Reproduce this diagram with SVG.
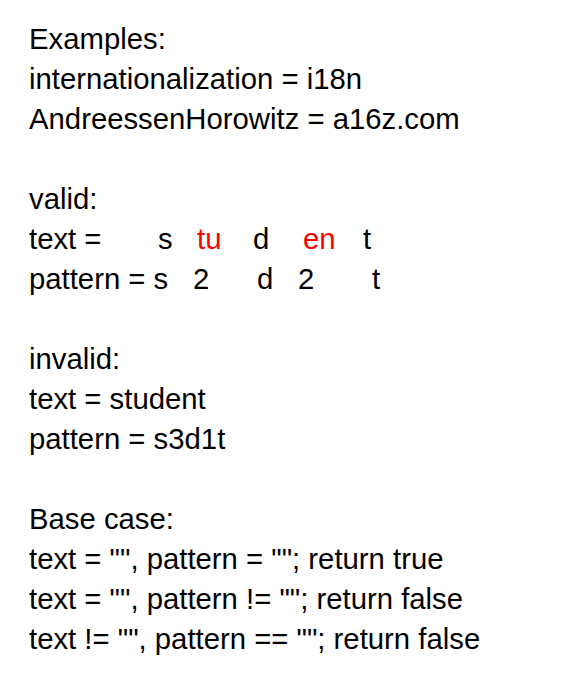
<svg xmlns="http://www.w3.org/2000/svg" width="582" height="678" viewBox="0 0 582 678">
<style>
text{font-family:"Liberation Sans",Arial,sans-serif;font-size:29.3px;fill:#000}
.r{fill:#ff0000}
</style>
<rect width="582" height="678" fill="#fff"/>
<g id="examples">
<text x="29" y="49">Examples:</text>
<text x="29" y="89">internationalization = i18n</text>
<text x="29" y="129">AndreessenHorowitz = a16z.com</text>
</g>
<g id="valid">
<text x="29" y="209">valid:</text>
<text x="29" y="249">text =</text>
<text x="158" y="249">s</text>
<text class="r" x="197" y="249">tu</text>
<text x="253" y="249">d</text>
<text class="r" x="303" y="249">en</text>
<text x="363" y="249">t</text>
<text x="29" y="289">pattern = s</text>
<text x="193" y="289">2</text>
<text x="257" y="289">d</text>
<text x="298" y="289">2</text>
<text x="372" y="289">t</text>
</g>
<g id="invalid">
<text x="29" y="369">invalid:</text>
<text x="29" y="409">text = student</text>
<text x="29" y="449">pattern = s3d1t</text>
</g>
<g id="base">
<text x="29" y="529">Base case:</text>
<text x="29" y="569">text = "", pattern = ""; return true</text>
<text x="29" y="609">text = "", pattern != ""; return false</text>
<text x="29" y="649">text != "", pattern == ""; return false</text>
</g>
</svg>
